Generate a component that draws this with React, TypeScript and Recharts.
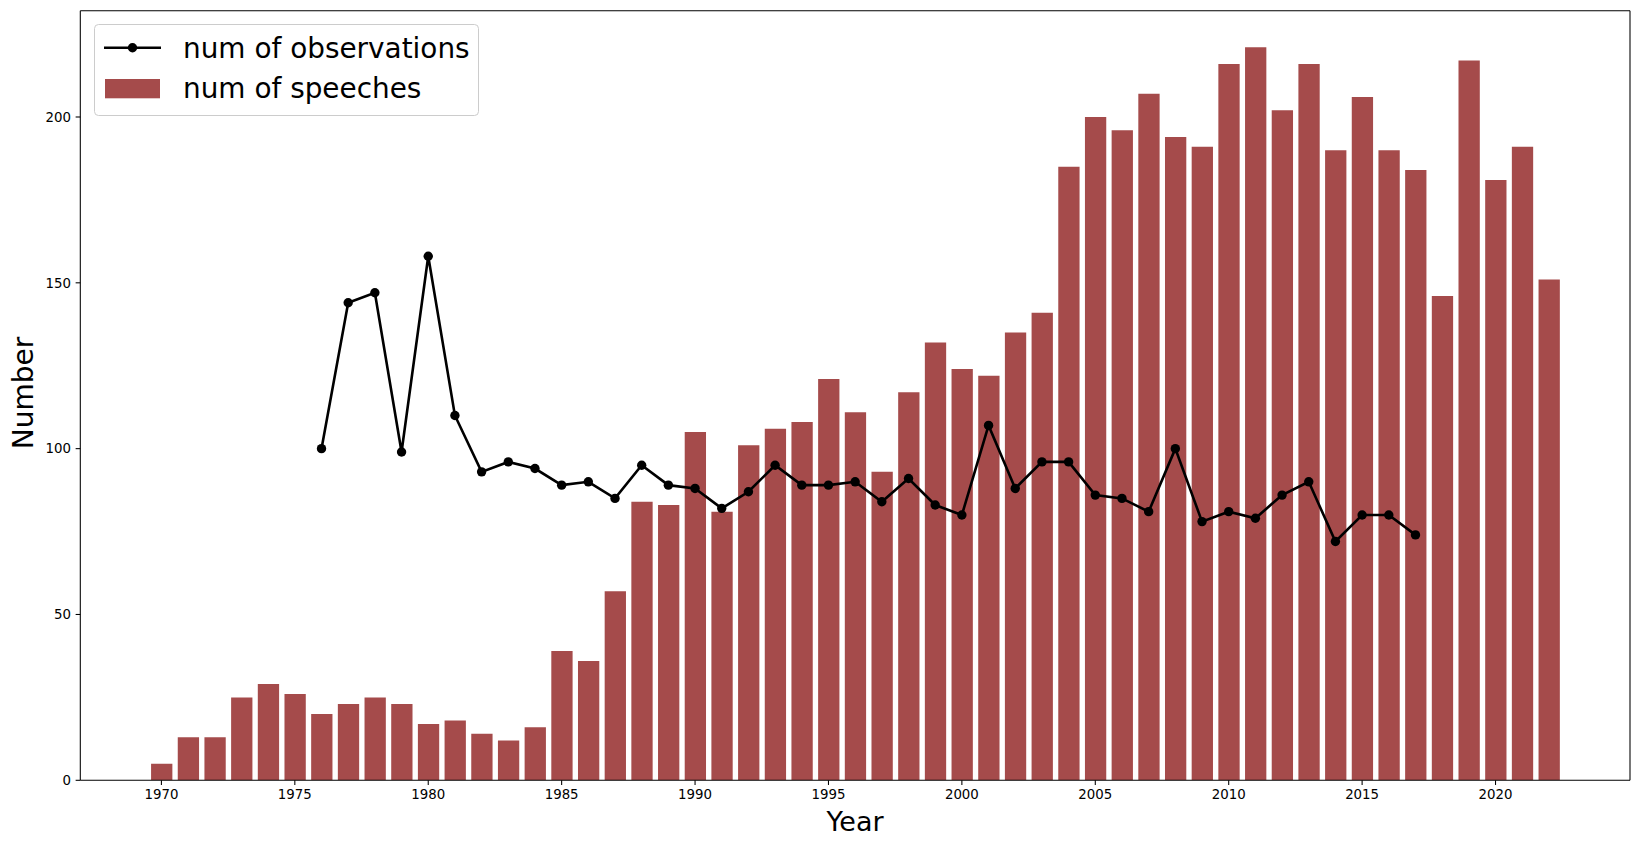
import React from 'react';
import { ComposedChart, Bar, Line, XAxis, YAxis, Legend, Label } from 'recharts';

const years = [
  1970, 1971, 1972, 1973, 1974, 1975, 1976, 1977, 1978, 1979,
  1980, 1981, 1982, 1983, 1984, 1985, 1986, 1987, 1988, 1989,
  1990, 1991, 1992, 1993, 1994, 1995, 1996, 1997, 1998, 1999,
  2000, 2001, 2002, 2003, 2004, 2005, 2006, 2007, 2008, 2009,
  2010, 2011, 2012, 2013, 2014, 2015, 2016, 2017, 2018, 2019,
  2020, 2021, 2022,
];

const speeches = [
  5, 13, 13, 25, 29, 26, 20, 23, 25, 23,
  17, 18, 14, 12, 16, 39, 36, 57, 84, 83,
  105, 81, 101, 106, 108, 121, 111, 93, 117, 132,
  124, 122, 135, 141, 185, 200, 196, 207, 194, 191,
  216, 221, 202, 216, 190, 206, 190, 184, 146, 217,
  181, 191, 151,
];

const observationYears = [
  1976, 1977, 1978, 1979, 1980, 1981, 1982, 1983, 1984, 1985,
  1986, 1987, 1988, 1989, 1990, 1991, 1992, 1993, 1994, 1995,
  1996, 1997, 1998, 1999, 2000, 2001, 2002, 2003, 2004, 2005,
  2006, 2007, 2008, 2009, 2010, 2011, 2012, 2013, 2014, 2015,
  2016, 2017,
];

const observations = [
  100, 144, 147, 99, 158, 110, 93, 96, 94, 89,
  90, 85, 95, 89, 88, 82, 87, 95, 89, 89,
  90, 84, 91, 83, 80, 107, 88, 96, 96, 86,
  85, 81, 100, 78, 81, 79, 86, 90, 72, 80,
  80, 74,
];

const xTicks = [1970, 1975, 1980, 1985, 1990, 1995, 2000, 2005, 2010, 2015, 2020];
const yTicks = [0, 50, 100, 150, 200];

const data = years.map((year, i) => {
  const k = observationYears.indexOf(year);
  return { year, speeches: speeches[i], obs: k >= 0 ? observations[k] : null };
});

const FONT = 'DejaVu Sans';
const BAR_COLOR = '#a54b4b';
const X_DOMAIN: [number, number] = [1966.96, 2025.04];
const Y_DOMAIN: [number, number] = [0, 232.05];

const axisStroke = { stroke: '#000', strokeWidth: 1.07 };
const tickStyle = { fill: '#000', fontSize: 13.33, fontFamily: FONT };

const renderLegend = () => (
  <svg width={386} height={93} style={{ display: 'block' }}>
    <rect x={0.5} y={0.5} width={384} height={91} rx={4} ry={4} fill="#fff" fillOpacity={0.8} stroke="#cccccc" strokeWidth={1} />
    <line x1={10} x2={67} y1={23.7} y2={23.7} stroke="#000" strokeWidth={2.6} />
    <circle cx={38.5} cy={23.7} r={4.7} fill="#000" />
    <text x={89} y={33.7} fontSize={27.9} fontFamily={FONT} fill="#000">num of observations</text>
    <rect x={11} y={55} width={55} height={19.3} fill={BAR_COLOR} />
    <text x={89} y={73.7} fontSize={27.9} fontFamily={FONT} fill="#000">num of speeches</text>
  </svg>
);

export default function App() {
  return (
    <div style={{ position: 'absolute', left: 0, top: 0, width: 1639, height: 847, background: '#fff' }}>
      <ComposedChart
        width={1639}
        height={847}
        data={data}
        margin={{ top: 9.7, right: 8, bottom: 36.7, left: 0 }}
        barCategoryGap={0}
      >
        <XAxis
          dataKey="year"
          type="number"
          domain={X_DOMAIN}
          allowDataOverflow
          ticks={xTicks}
          interval={0}
          height={30}
          tick={tickStyle}
          tickLine={axisStroke}
          axisLine={axisStroke}
          tickSize={4.67}
          tickMargin={4.67}
        >
          <Label
            content={() => (
              <text x={855} y={830.5} textAnchor="middle" fontSize={27} fontFamily={FONT} fill="#000">
                Year
              </text>
            )}
          />
        </XAxis>
        <XAxis
          xAxisId="top"
          orientation="top"
          type="number"
          dataKey="year"
          domain={X_DOMAIN}
          allowDataOverflow
          height={1}
          tick={false}
          tickLine={false}
          axisLine={axisStroke}
        />
        <YAxis
          type="number"
          domain={Y_DOMAIN}
          allowDataOverflow
          ticks={yTicks}
          interval={0}
          width={80.3}
          tick={tickStyle}
          tickLine={axisStroke}
          axisLine={axisStroke}
          tickSize={4.67}
          tickMargin={4.67}
        >
          <Label
            content={() => (
              <text
                x={33}
                y={393}
                textAnchor="middle"
                fontSize={28}
                fontFamily={FONT}
                fill="#000"
                transform="rotate(-90 33 393)"
              >
                Number
              </text>
            )}
          />
        </YAxis>
        <YAxis
          yAxisId="right"
          orientation="right"
          type="number"
          domain={Y_DOMAIN}
          allowDataOverflow
          width={1}
          tick={false}
          tickLine={false}
          axisLine={axisStroke}
        />
        <Legend
          layout="vertical"
          align="center"
          verticalAlign="middle"
          content={renderLegend}
          wrapperStyle={{ position: 'absolute', left: 94, top: 24, width: 386, height: 93 }}
        />
        <Bar dataKey="speeches" name="num of speeches" fill={BAR_COLOR} barSize={21.3} isAnimationActive={false} />
        <Line
          xAxisId="top"
          yAxisId="right"
          dataKey="obs"
          name="num of observations"
          type="linear"
          stroke="#000"
          strokeWidth={2.6}
          dot={{ r: 4.7, fill: '#000', stroke: 'none' }}
          activeDot={false}
          connectNulls={false}
          isAnimationActive={false}
        />
      </ComposedChart>
    </div>
  );
}
